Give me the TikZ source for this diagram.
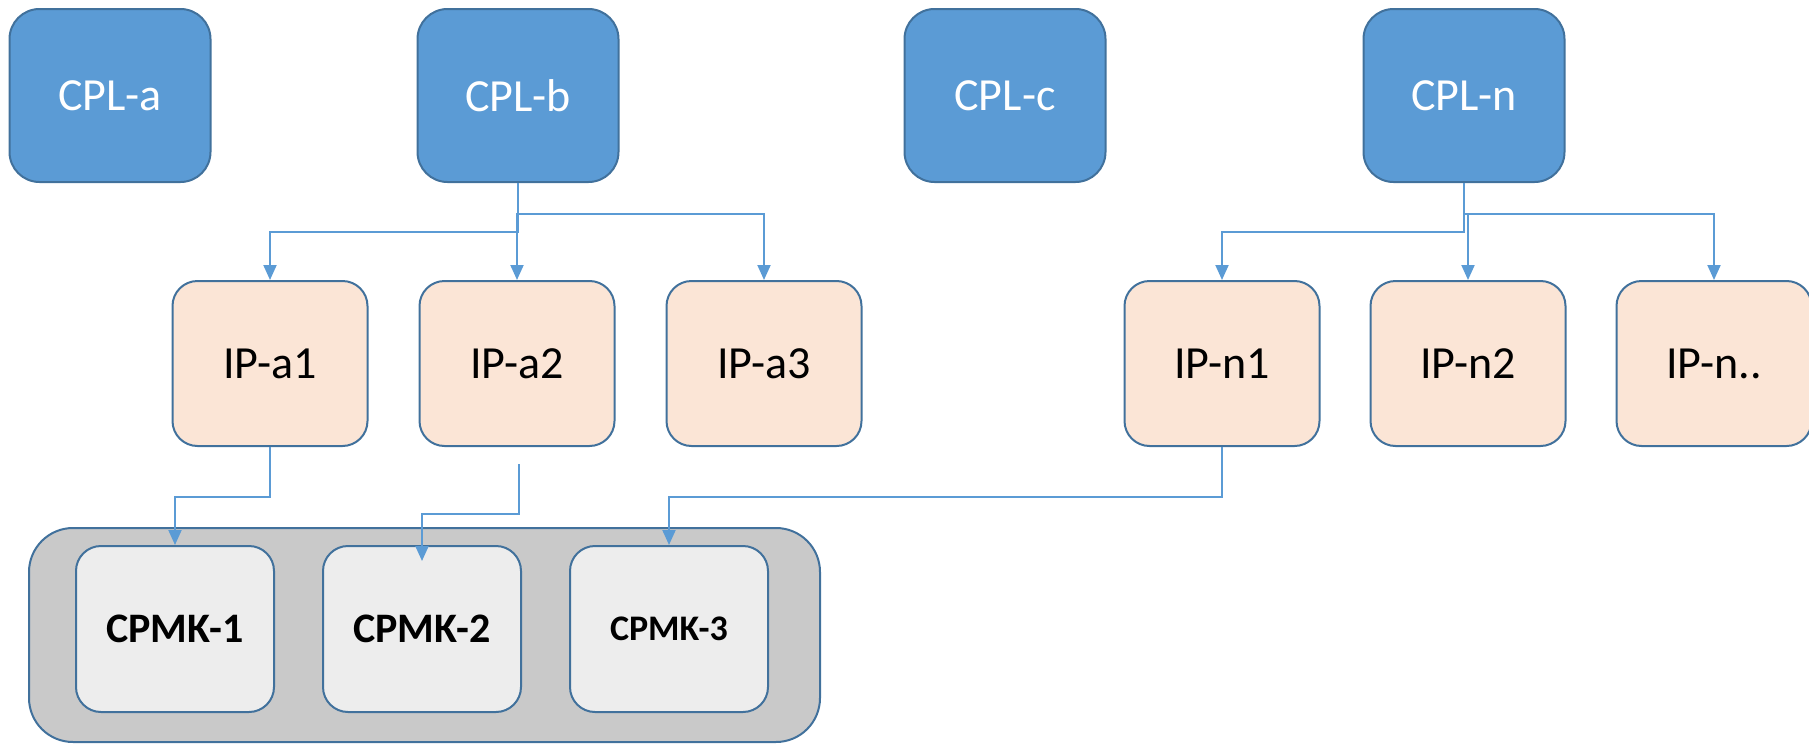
\documentclass[tikz,border=0pt]{standalone}
\usepackage{fontspec}
\setmainfont{Carlito}
\usetikzlibrary{arrows.meta,backgrounds,positioning}
\definecolor{cplblue}{HTML}{5B9BD5}
\definecolor{edgeblue}{HTML}{41719C}
\definecolor{ipfill}{HTML}{FBE5D6}
\definecolor{mkfill}{HTML}{EDEDED}
\definecolor{groupfill}{HTML}{C9C9C9}

\begin{document}
\begin{tikzpicture}[x=0.5pt,y=-0.5pt,
    cpl/.style={rectangle,rounded corners=15pt,draw=edgeblue,line width=1pt,fill=cplblue,text=white,
      minimum width=100.5pt,minimum height=86.5pt,font=\fontsize{23}{28}\selectfont},
    ip/.style={rectangle,rounded corners=12.5pt,draw=edgeblue,line width=1pt,fill=ipfill,
      minimum width=97.5pt,minimum height=82.5pt,font=\fontsize{23}{28}\selectfont},
    cpmk/.style={rectangle,rounded corners=12.5pt,draw=edgeblue,line width=1pt,fill=mkfill,
      minimum width=99pt,minimum height=83pt,font=\bfseries\fontsize{21}{25}\selectfont},
    link/.style={draw=cplblue,line width=1pt,-{Triangle[width=6.5pt,length=7.5pt]}}]
    \useasboundingbox (0,0) rectangle (1809,744);
    \node[cpl] (cpl a) at (110,95.5) {CPL-a};
    \node[cpl] (cpl b) at (518,95.5) {CPL-b};
    \node[cpl] (cpl c) at (1005,95.5) {CPL-c};
    \node[cpl] (cpl n) at (1464,95.5) {CPL-n};
    \node[ip] (ip a1) at (270,363.5) {IP-a1};
    \node[ip] (ip a2) [right=25pt of ip a1] {IP-a2};
    \node[ip] (ip a3) [right=25pt of ip a2] {IP-a3};
    \node[ip] (ip n1) at (1222,363.5) {IP-n1};
    \node[ip] (ip n2) [right=24.5pt of ip n1] {IP-n2};
    \node[ip] (ip n3) [right=24.5pt of ip n2] {IP-n..};
    \node[cpmk] (cpmk 1) at (175,629) {CPMK-1};
    \node[cpmk] (cpmk 2) [right=23.5pt of cpmk 1] {CPMK-2};
    \node[cpmk,font=\bfseries\fontsize{18}{22}\selectfont] (cpmk 3) [right=23.5pt of cpmk 2] {CPMK-3};
    \begin{scope}[on background layer]
    \node [fill=groupfill,draw=edgeblue,line width=1pt,rounded corners=22pt,
      minimum width=395.5pt,minimum height=107pt] (cpmk group) at (424.5,635) {};
    \end{scope}
    \draw[link] (cpl b.south) -- ++(0,49) -| (ip a1.north);
    \draw[link] (cpl b.south) -- ++(0,31) -| (ip a2.north);
    \draw[link] (cpl b.south) -- ++(0,31) -| (ip a3.north);
    \draw[link] (cpl n.south) -- ++(0,49) -| (ip n1.north);
    \draw[link] (cpl n.south) -- ++(0,31) -| (ip n2.north);
    \draw[link] (cpl n.south) -- ++(0,31) -| (ip n3.north);
    \draw[link] (ip a1.south) -- ++(0,50) -| (cpmk 1.north);
    \coordinate (a2 free) at ([xshift=1pt,yshift=-8.5pt]ip a2.south);
    \draw[link] (a2 free) -- ++(0,50) -| ([yshift=-8pt]cpmk 2.north);
    \draw[link] (ip n1.south) -- ++(0,50) -| (cpmk 3.north);
\end{tikzpicture}
\end{document}
